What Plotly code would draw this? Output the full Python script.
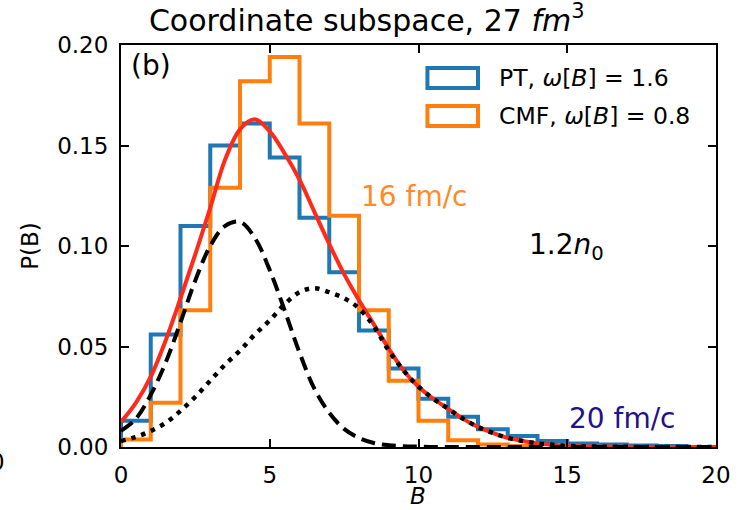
import plotly.graph_objects as go

# ---------------- data ----------------
bin_edges = list(range(0, 21))
pt_hist = [0.013, 0.056, 0.110, 0.150, 0.161, 0.144, 0.114, 0.087, 0.058, 0.039,
           0.024, 0.015, 0.0088, 0.0055, 0.003, 0.0017, 0.0012, 0.0007, 0.0005]
cmf_hist = [0.0037, 0.022, 0.068, 0.129, 0.182, 0.194, 0.161, 0.115, 0.068, 0.033,
            0.013, 0.0033, 0.0012, 0.0005]

B_grid = [0, 0.5, 1, 1.5, 2, 2.5, 3, 3.5, 4, 4.5, 5, 5.5, 6, 6.5, 7, 7.5, 8, 8.5, 9, 9.5,
          10, 10.5, 11, 11.5, 12, 12.5, 13, 13.5, 14, 14.5, 15, 15.5, 16, 16.5, 17, 17.5,
          18, 18.5, 19, 19.5, 20]
dashed_curve = [0.008, 0.014, 0.026, 0.042, 0.062, 0.083, 0.100, 0.110, 0.112, 0.104,
                0.088, 0.068, 0.047, 0.029, 0.017, 0.009, 0.0045, 0.002, 0.0009, 0.0004,
                0.0002, 0, 0, 0, 0, 0, 0, 0, 0, 0, 0, 0, 0, 0, 0, 0, 0, 0, 0, 0, 0]
dotted_curve = [0.003, 0.005, 0.008, 0.012, 0.018, 0.025, 0.033, 0.041, 0.048, 0.056,
                0.063, 0.071, 0.077, 0.079, 0.077, 0.074, 0.069, 0.060, 0.048, 0.038,
                0.030, 0.024, 0.019, 0.014, 0.010, 0.007, 0.0045, 0.003, 0.0018, 0.0011,
                0.0006, 0.0003, 0.0002, 0.0001, 0.0001, 0, 0, 0, 0, 0, 0]
total_curve = [0.0125, 0.022, 0.035, 0.053, 0.074, 0.096, 0.119, 0.143, 0.158, 0.163,
               0.157, 0.146, 0.133, 0.117, 0.101, 0.086, 0.073, 0.061, 0.049, 0.038,
               0.030, 0.024, 0.019, 0.014, 0.010, 0.007, 0.0045, 0.003, 0.0018, 0.0011,
               0.0006, 0.0003, 0.0002, 0.0001, 0.0001, 0, 0, 0, 0, 0, 0]

x_ticks = [0, 5, 10, 15, 20]
y_ticks = [0.00, 0.05, 0.10, 0.15, 0.20]

BLUE = "#1f77b4"
ORANGE = "#ff7f0e"
RED = "#ff2a1a"
FONT = "DejaVu Sans"


def step_outline(edges, values):
    xs, ys = [edges[0]], [0]
    for i, v in enumerate(values):
        xs += [edges[i], edges[i + 1]]
        ys += [v, v]
    xs.append(edges[len(values)])
    ys.append(0)
    return xs, ys


fig = go.Figure()
for vals, col, name in [(pt_hist, BLUE, "PT"), (cmf_hist, ORANGE, "CMF")]:
    xs, ys = step_outline(bin_edges, vals)
    fig.add_trace(go.Scatter(x=xs, y=ys, mode="lines", name=name,
                             line=dict(color=col, width=4)))

fig.add_trace(go.Scatter(x=B_grid, y=total_curve, mode="lines",
                         line=dict(color=RED, width=4, shape="spline", smoothing=1.0)))
fig.add_trace(go.Scatter(x=B_grid, y=dashed_curve, mode="lines",
                         line=dict(color="black", width=4, dash="14px,7px",
                                   shape="spline", smoothing=1.0)))
fig.add_trace(go.Scatter(x=B_grid, y=dotted_curve, mode="lines",
                         line=dict(color="black", width=4.5, dash="4.5px,6px",
                                   shape="spline", smoothing=1.0)))

axis_common = dict(showgrid=False, zeroline=False, showline=True, linecolor="black",
                   linewidth=2, mirror="ticks", ticks="inside", ticklen=8, tickwidth=1.5,
                   tickcolor="black", automargin=False,
                   tickfont=dict(family=FONT, size=23, color="black"))

fig.update_xaxes(range=[0, 20], tickvals=x_ticks, ticklabelstandoff=6, **axis_common)
fig.update_yaxes(range=[0, 0.2], tickvals=y_ticks, tickformat=".2f", ticklabelstandoff=6,
                 title=dict(text="P(B)", font=dict(family=FONT, size=23), standoff=12),
                 **axis_common)

annotations = [
    dict(text="<i>B</i>", x=(418 - 121) / 595, y=(446.7 - 509.5) / 402, xref="paper",
         yref="paper", xanchor="center", yanchor="bottom", showarrow=False, borderpad=0,
         font=dict(family=FONT, size=23, color="black")),
    dict(text="(b)", x=0.28, y=0.190, xref="x", yref="y", xanchor="left", yanchor="middle",
         showarrow=False, font=dict(family=FONT, size=28, color="black")),
    dict(text="16 fm/c", x=8.0, y=0.1244, xref="x", yref="y", xanchor="left",
         yanchor="middle", showarrow=False, font=dict(family=FONT, size=28, color="#ff8a2a")),
    dict(text="1.2<i>n</i><sub>0</sub>", x=13.65, y=0.100, xref="x", yref="y",
         xanchor="left", yanchor="middle", showarrow=False,
         font=dict(family=FONT, size=28, color="black")),
    dict(text="20 fm/c", x=15.0, y=0.0143, xref="x", yref="y", xanchor="left",
         yanchor="middle", showarrow=False, font=dict(family=FONT, size=28, color="#22108c")),
    dict(text="PT, <i>ω</i>[<i>B</i>] = 1.6", x=12.64, y=0.1836, xref="x", yref="y",
         xanchor="left", yanchor="middle", showarrow=False,
         font=dict(family=FONT, size=23.5, color="black")),
    dict(text="CMF, <i>ω</i>[<i>B</i>] = 0.8", x=12.64, y=0.1647, xref="x", yref="y",
         xanchor="left", yanchor="middle", showarrow=False,
         font=dict(family=FONT, size=23.5, color="black")),
    dict(text="0", x=(7 - 121) / 595, y=(446.7 - 462) / 402, xref="paper", yref="paper",
         xanchor="right", yanchor="middle", showarrow=False,
         font=dict(family=FONT, size=23, color="black")),
]

shapes = [
    dict(type="rect", xref="x", yref="y", x0=10.3, x1=12.0, y0=0.1786, y1=0.1886,
         line=dict(color=BLUE, width=4), fillcolor="rgba(0,0,0,0)"),
    dict(type="rect", xref="x", yref="y", x0=10.3, x1=12.0, y0=0.1597, y1=0.1697,
         line=dict(color=ORANGE, width=4), fillcolor="rgba(0,0,0,0)"),
]

fig.update_layout(
    width=752, height=510,
    margin=dict(l=121, r=36, t=45, b=63),
    plot_bgcolor="white", paper_bgcolor="white",
    showlegend=False,
    font=dict(family=FONT, color="black"),
    title=dict(text="Coordinate subspace, 27 <i>fm</i><sup>3</sup>", x=0.413, xref="paper",
               xanchor="center", y=1 - 20 / 510, yref="container", yanchor="middle",
               font=dict(family=FONT, size=30, color="black")),
    annotations=annotations,
    shapes=shapes,
)

fig.write_html("out.html")
